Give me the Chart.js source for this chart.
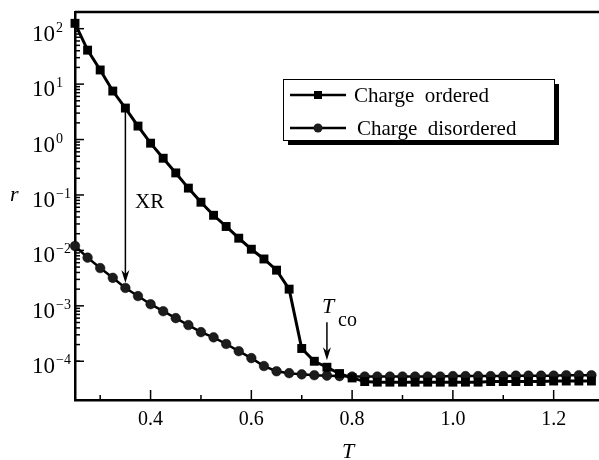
<!DOCTYPE html>
<html>
<head>
<meta charset="utf-8">
<script src="https://cdn.jsdelivr.net/npm/chart.js@4"></script>
<style>
  body { margin: 0; background: #fff; }
  #wrap { width: 599px; height: 460px; }
</style>
</head>
<body>
<div id="wrap"><canvas id="graph" width="599" height="460"></canvas></div>
<script>
// temperature T
var T_VALUES = [0.25, 0.275, 0.3, 0.325, 0.35, 0.375, 0.4, 0.425, 0.45, 0.475,
                0.5, 0.525, 0.55, 0.575, 0.6, 0.625, 0.65, 0.675, 0.7, 0.725,
                0.75, 0.775, 0.8, 0.825, 0.85, 0.875, 0.9, 0.925, 0.95, 0.975,
                1.0, 1.025, 1.05, 1.075, 1.1, 1.125, 1.15, 1.175, 1.2, 1.225,
                1.25, 1.275];

// r, charge ordered (squares)
var R_ORDERED = [125, 41, 18, 7.5, 3.7, 1.75, 0.86, 0.46, 0.25, 0.133,
                 0.074, 0.043, 0.027, 0.0166, 0.0105, 0.0070, 0.0044, 0.0020, 1.7e-4, 1.0e-4,
                 7.8e-5, 6.0e-5, 5.0e-5, 4.3e-5, 4.2e-5, 4.2e-5, 4.2e-5, 4.2e-5, 4.2e-5, 4.2e-5,
                 4.2e-5, 4.2e-5, 4.2e-5, 4.3e-5, 4.3e-5, 4.3e-5, 4.3e-5, 4.3e-5, 4.4e-5, 4.4e-5,
                 4.4e-5, 4.4e-5];

// r, charge disordered (circles)
var R_DISORDERED = [0.0120, 0.0074, 0.0048, 0.0032, 0.0021, 0.0015, 0.00107, 8.0e-4, 6.0e-4, 4.5e-4,
                    3.35e-4, 2.7e-4, 2.05e-4, 1.52e-4, 1.14e-4, 8.2e-5, 6.6e-5, 6.1e-5, 5.8e-5, 5.6e-5,
                    5.5e-5, 5.4e-5, 5.3e-5, 5.3e-5, 5.3e-5, 5.3e-5, 5.3e-5, 5.3e-5, 5.3e-5, 5.3e-5,
                    5.4e-5, 5.4e-5, 5.4e-5, 5.4e-5, 5.4e-5, 5.5e-5, 5.5e-5, 5.5e-5, 5.5e-5, 5.6e-5,
                    5.6e-5, 5.6e-5];

var SERIES_LABELS = ["Charge  ordered", "Charge  disordered"];
var X_TICKS  = [0.3, 0.4, 0.5, 0.6, 0.7, 0.8, 0.9, 1.0, 1.1, 1.2];
var X_LABELS = ["0.4", "0.6", "0.8", "1.0", "1.2"];
var Y_EXPONENTS = [2, 1, 0, -1, -2, -3, -4];

var XR_T  = 0.35;
var TCO_T = 0.75;

var SERIF = "'Liberation Serif', 'DejaVu Serif', serif";

function pts(ys){
    let out = [];
    for (let i = 0; i < T_VALUES.length; i++){
        out.push({x: T_VALUES[i], y: ys[i]});
    }
    return out;
}

function arrowDown(ctx, x, y1, y2){
    ctx.save();
    ctx.strokeStyle = "#000";
    ctx.fillStyle   = "#000";
    ctx.lineWidth   = 1.5;
    ctx.beginPath();
    ctx.moveTo(x, y1);
    ctx.lineTo(x, y2 - 6);
    ctx.stroke();
    ctx.beginPath();
    ctx.moveTo(x, y2);
    ctx.lineTo(x - 4, y2 - 13);
    ctx.lineTo(x, y2 - 9);
    ctx.lineTo(x + 4, y2 - 13);
    ctx.closePath();
    ctx.fill();
    ctx.restore();
}

//目盛り・注釈・凡例はここで描く
var decoPlugin = {
    id: "deco",
    afterDatasetsDraw: function(chart){
        let ctx = chart.ctx;
        let xs  = chart.scales.x;
        let ys  = chart.scales.y;
        let a   = chart.chartArea;

        ctx.save();
        ctx.strokeStyle = "#000";
        ctx.fillStyle   = "#000";

        // top frame line
        ctx.lineWidth = 2.5;
        ctx.beginPath();
        ctx.moveTo(a.left, a.top);
        ctx.lineTo(a.right, a.top);
        ctx.stroke();

        // x ticks (inward)
        ctx.lineWidth = 1.5;
        X_TICKS.forEach(function(v){
            let px  = xs.getPixelForValue(v);
            let major = X_LABELS.indexOf(v.toFixed(1)) >= 0;
            ctx.beginPath();
            ctx.moveTo(px, a.bottom);
            ctx.lineTo(px, a.bottom - (major ? 10 : 5));
            ctx.stroke();
        });

        // y ticks (inward) + labels
        Y_EXPONENTS.forEach(function(k){
            let base = Math.pow(10, k);
            let py = ys.getPixelForValue(base);
            ctx.beginPath();
            ctx.moveTo(a.left, py);
            ctx.lineTo(a.left + 9, py);
            ctx.stroke();
            for (let m = 2; m <= 9; m++){
                let v = base * m;
                if (v > ys.max) continue;
                let pm = ys.getPixelForValue(v);
                ctx.beginPath();
                ctx.moveTo(a.left, pm);
                ctx.lineTo(a.left + 5, pm);
                ctx.stroke();
            }
            ctx.textAlign    = "left";
            ctx.textBaseline = "alphabetic";
            ctx.font = "23px " + SERIF;
            ctx.fillText("10", 32, py + 12);
            ctx.font = "14px " + SERIF;
            ctx.fillText(k < 0 ? "\u2212" + (-k) : String(k), 56, py + 3);
        });
        let low = ys.getPixelForValue(ys.min * 5);
        ctx.beginPath();
        ctx.moveTo(a.left, low);
        ctx.lineTo(a.left + 5, low);
        ctx.stroke();

        // axis titles
        ctx.font = "italic 22px " + SERIF;
        ctx.textAlign = "left";
        ctx.fillText("r", 10, 201);
        ctx.fillText("T", 342, 458);

        // XR arrow
        let iXR = T_VALUES.indexOf(XR_T);
        let pxXR = xs.getPixelForValue(XR_T);
        arrowDown(ctx, pxXR, ys.getPixelForValue(R_ORDERED[iXR]), ys.getPixelForValue(R_DISORDERED[iXR]) - 5);
        ctx.font = "21px " + SERIF;
        ctx.fillText("XR", 135, 208);

        // Tco arrow
        let iCO = T_VALUES.indexOf(TCO_T);
        let pxCO = xs.getPixelForValue(TCO_T);
        let tip = ys.getPixelForValue(R_ORDERED[iCO]) - 7;
        arrowDown(ctx, pxCO, tip - 38, tip);
        ctx.font = "italic 22px " + SERIF;
        ctx.fillText("T", 322, 313);
        ctx.font = "20px " + SERIF;
        ctx.fillText("co", 338, 326);

        // legend box with shadow
        let lx = 283, ly = 79, lw = 271, lh = 61;
        ctx.fillRect(lx + 5, ly + 5, lw, lh);
        ctx.fillStyle = "#fff";
        ctx.fillRect(lx, ly, lw, lh);
        ctx.lineWidth = 1;
        ctx.strokeRect(lx + 0.5, ly + 0.5, lw, lh);

        let rows = [95, 128];
        chart.data.datasets.forEach(function(ds, i){
            let ry = rows[i];
            ctx.strokeStyle = ds.borderColor;
            ctx.lineWidth = 2.5;
            ctx.beginPath();
            ctx.moveTo(290, ry);
            ctx.lineTo(346, ry);
            ctx.stroke();
            ctx.fillStyle = ds.pointBackgroundColor;
            ctx.beginPath();
            if (ds.pointStyle === "rect"){
                ctx.rect(314, ry - 4, 8, 8);
            } else {
                ctx.arc(318, ry, 4.5, 0, Math.PI * 2);
            }
            ctx.fill();
            ctx.fillStyle = "#000";
            ctx.font = "21px " + SERIF;
            ctx.fillText(ds.label, i === 0 ? 354 : 357, ry + 7);
        });

        ctx.restore();
    }
};

window.addEventListener("load", function(){

    let ctx = document.getElementById("graph");

    let data = {
        datasets: [
            {
                label: SERIES_LABELS[0],
                data: pts(R_ORDERED),
                borderColor: "#000",
                borderWidth: 3,
                pointStyle: "rect",
                pointRadius: 6.3,
                pointBackgroundColor: "#000",
                pointBorderColor: "#000",
                pointBorderWidth: 0,
                clip: false,
                order: 1
            },
            {
                label: SERIES_LABELS[1],
                data: pts(R_DISORDERED),
                borderColor: "#000",
                borderWidth: 2.5,
                pointStyle: "circle",
                pointRadius: 4.8,
                pointBackgroundColor: "#1c1c1c",
                pointBorderColor: "#000",
                pointBorderWidth: 0.5,
                clip: false,
                order: 2
            }
        ]
    };

    let options = {
        responsive: false,
        animation: false,
        layout: { autoPadding: false, padding: { top: 12, right: 0, left: 0, bottom: 0 } },
        plugins: {
            legend: { display: false },
            tooltip: { enabled: false }
        },
        scales: {
            x: {
                type: "linear",
                min: 0.25,
                max: 1.29,
                afterBuildTicks: function(scale){
                    scale.ticks = X_TICKS.map(function(v){ return {value: v}; });
                },
                afterFit: function(scale){
                    scale.height = 60;
                    scale.paddingRight = 0;
                    scale.paddingLeft = 0;
                },
                ticks: {
                    autoSkip: false,
                    maxRotation: 0,
                    padding: 8,
                    color: "#000",
                    font: { family: SERIF, size: 20 },
                    callback: function(v){
                        let s = Number(v).toFixed(1);
                        return X_LABELS.indexOf(s) >= 0 ? s : "";
                    }
                },
                grid: { display: false, drawTicks: false },
                border: { display: true, color: "#000", width: 2.5 }
            },
            y: {
                type: "logarithmic",
                min: 2e-5,
                max: 200,
                afterFit: function(scale){
                    scale.width = 75;
                    scale.paddingTop = 0;
                    scale.paddingBottom = 0;
                },
                ticks: { display: false },
                grid: { display: false, drawTicks: false },
                border: { display: true, color: "#000", width: 2.5 }
            }
        }
    };

    new Chart(ctx, {
        type: "line",
        data: data,
        options: options,
        plugins: [decoPlugin]
    });

});
</script>
</body>
</html>
